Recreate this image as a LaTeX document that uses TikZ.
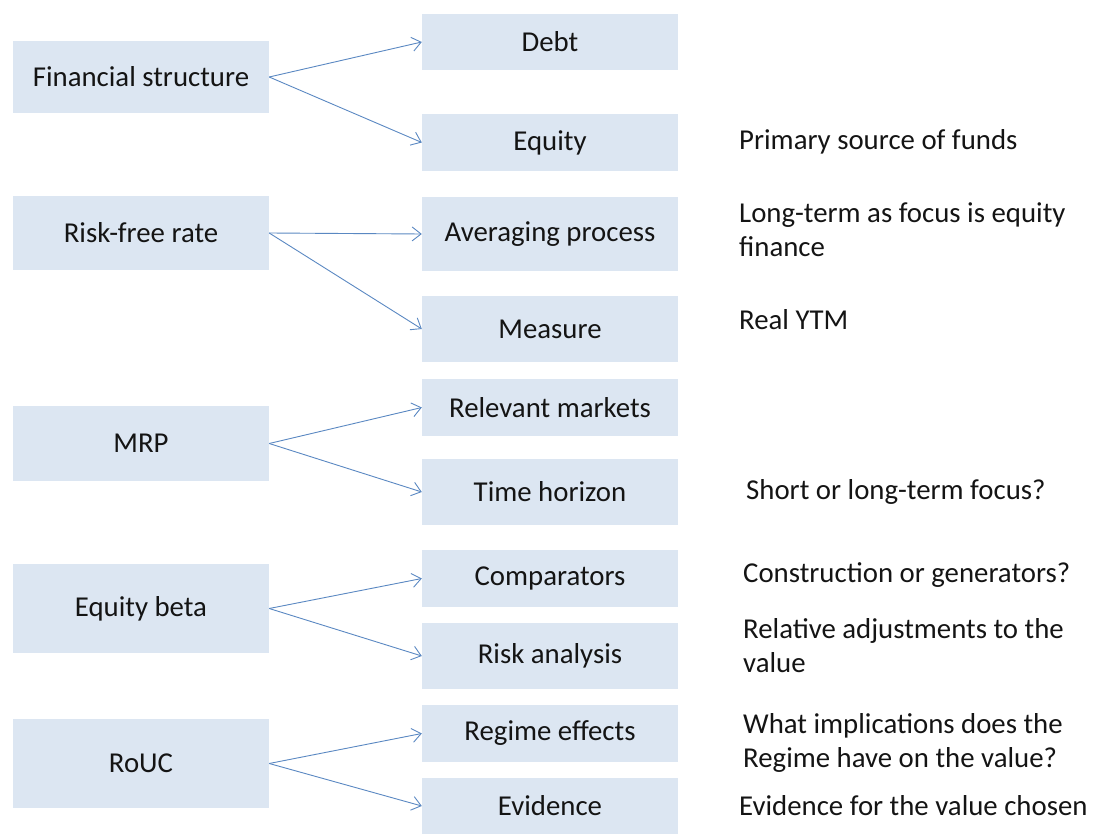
\documentclass[tikz,border=0pt]{standalone}
\usepackage{fontspec}
\setmainfont{Carlito}
\usetikzlibrary{arrows.meta}
\definecolor{boxfill}{RGB}{220,230,242}
\definecolor{linkblue}{RGB}{90,136,194}
\definecolor{ink}{RGB}{20,20,20}
\begin{document}
\begin{tikzpicture}[x=1pt,y=-1pt,
  box/.style={fill=boxfill, draw=none, inner sep=0pt, text=ink,
    font=\fontsize{28.8}{34}\selectfont, minimum width=256pt},
  link/.style={draw=linkblue, line width=0.9pt,
    -{Straight Barb[length=9pt,width=14pt]}},
  note/.style={anchor=west, align=left, inner sep=0pt, text=ink,
    font=\fontsize{28.8}{34}\selectfont}]
\useasboundingbox (0,0) rectangle (1096,837);

% topics (left column)
\node[box, minimum height=72pt] (fs)   at (141,77)    {Financial structure};
\node[box, minimum height=74pt] (rf)   at (141,233)   {Risk-free rate};
\node[box, minimum height=75pt] (mrp)  at (141,443.5) {MRP};
\node[box, minimum height=89pt] (eb)   at (141,608.5) {Equity beta};
\node[box, minimum height=89pt] (rouc) at (141,763.5) {RoUC};

% sub-topics (middle column)
\node[box, minimum height=56pt] (debt)    at (550,42)    {Debt};
\node[box, minimum height=57pt] (equity)  at (550,142.5) {Equity};
\node[box, minimum height=74pt] (avg)     at (550,234)   {Averaging process};
\node[box, minimum height=66pt] (measure) at (550,329)   {Measure};
\node[box, minimum height=57pt] (relev)   at (550,407.5) {Relevant markets};
\node[box, minimum height=66pt] (time)    at (550,492)   {Time horizon};
\node[box, minimum height=57pt] (comp)    at (550,578.5) {Comparators};
\node[box, minimum height=66pt] (risk)    at (550,656)   {Risk analysis};
\node[box, minimum height=57pt] (regime)  at (550,733.5) {Regime effects};
\node[box, minimum height=56pt] (evid)    at (550,806)   {Evidence};

% comments (right column)
\node[note] (n1) at (739,142)   {Primary source of funds};
\node[note] (n2) at (739,230)   {Long-term as focus is equity\\finance};
\node[note] (n3) at (739,320)   {Real YTM};
\node[note] (n4) at (746,492)   {Short or long-term focus?};
\node[note] (n5) at (743,575)   {Construction or generators?};
\node[note] (n6) at (743,645.5) {Relative adjustments to the\\value};
\node[note] (n7) at (743,742.5) {What implications does the\\Regime have on the value?};
\node[note] (n8) at (739,806)   {Evidence for the value chosen};

% connectors
\draw[link] (fs.east)   -- (debt.west);
\draw[link] (fs.east)   -- (equity.west);
\draw[link] (rf.east)   -- (avg.west);
\draw[link] (rf.east)   -- (measure.west);
\draw[link] (mrp.east)  -- (relev.west);
\draw[link] (mrp.east)  -- (time.west);
\draw[link] (eb.east)   -- (comp.west);
\draw[link] (eb.east)   -- (risk.west);
\draw[link] (rouc.east) -- (regime.west);
\draw[link] (rouc.east) -- (evid.west);
\end{tikzpicture}
\end{document}
